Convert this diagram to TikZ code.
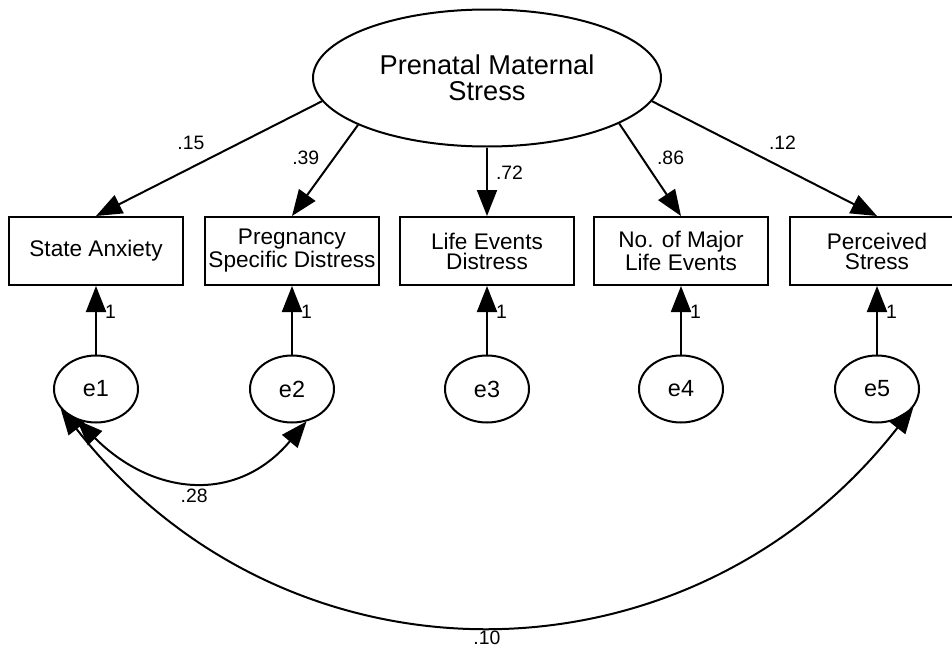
\documentclass[tikz,border=0pt]{standalone}
\usepackage{fontspec}
\setmainfont{Liberation Sans}
\usetikzlibrary{arrows.meta,shapes.geometric}

\begin{document}
\begin{tikzpicture}[line width=1pt, >={Triangle[length=13pt,width=10pt]}, x=0.5pt, y=-0.5pt,
  latent/.style={draw, ellipse, minimum width=174pt, minimum height=68.5pt, inner sep=0pt, align=center, font=\fontsize{13.6}{13}\selectfont},
  obs/.style={draw, rectangle, minimum width=87pt, minimum height=34pt, inner sep=0pt, align=center, font=\fontsize{11.3}{10}\selectfont},
  err/.style={draw, ellipse, minimum width=42pt, minimum height=33.5pt, inner sep=0pt, font=\fontsize{11.7}{12}\selectfont},
  coef/.style={font=\fontsize{9.7}{10}\selectfont, inner sep=0pt}]
  \useasboundingbox (0,0) rectangle (952,648);

  % latent factor and indicators
  \node[latent] (pms) at (487,78) {Prenatal Maternal\\Stress};
  \node[obs] (sa)  at (96,251)  {State Anxiety};
  \node[obs] (psd) at (292,251) {Pregnancy\\Specific Distress};
  \node[obs] (led) at (487,251) {Life Events\\Distress};
  \node[obs] (nle) at (681,251) {No. of Major\\Life Events};
  \node[obs] (ps)  at (877,251) {Perceived\\Stress};

  % loadings
  \draw[->] (pms.188) -- (sa.north)  node[coef, pos=0.58, above=8.5pt] {.15};
  \draw[->] (pms.200) -- (psd.north) node[coef, pos=0.36, left=7pt] {.39};
  \draw[->] (pms.270) -- (led.north) node[coef, pos=0.37, right=4pt] {.72};
  \draw[->] (pms.341) -- (nle.north) node[coef, pos=0.37, right=7pt] {.86};
  \draw[->] (pms.352) -- (ps.north)  node[coef, pos=0.58, above=8.5pt] {.12};

  % error terms
  \foreach \i/\x/\b in {1/96/sa, 2/292/psd, 3/487/led, 4/681/nle, 5/877/ps} {
    \node[err] (e\i) at (\x,389) {e\i};
    \draw[->] (e\i.north) -- (\b.south) node[coef, pos=0.63, right=4pt] {1};
  }

  % error covariances
  \draw[<->] (e1.238) to[out=-45, in=-130, looseness=1.2] node[coef, pos=0.5, below=4pt] {.28} (e2.294);
  \draw[<->] (e1.209) to[out=-52, in=-128, looseness=1.1] node[coef, pos=0.5, below=3pt] {.10} (e5.333);
\end{tikzpicture}
\end{document}
